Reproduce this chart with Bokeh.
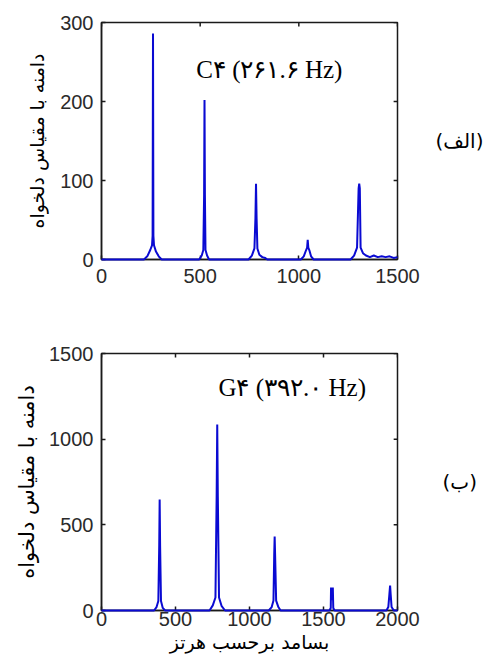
from bokeh.plotting import figure
from bokeh.models import LinearAxis, FixedTicker, Label, Range1d
from bokeh.layouts import column
from bokeh.embed import file_html
from bokeh.resources import INLINE

# ---- data: spectrum of C4 (261.6 Hz) ----
c4_freq = [0, 215, 232, 247, 256, 259, 261, 263, 266, 276, 290, 305,
           495, 508, 516, 520, 522, 524, 527, 535, 545,
           745, 762, 775, 780, 783, 786, 790, 800, 815, 830, 840,
           1010, 1025, 1037, 1042, 1045, 1048, 1053, 1062, 1075,
           1262, 1280, 1295, 1303, 1306, 1309, 1313, 1325, 1340, 1360, 1380,
           1400, 1420, 1440, 1460, 1480, 1500]
c4_amp = [0, 0, 4, 12, 18, 30, 286, 30, 18, 10, 4, 0,
          0, 5, 12, 82, 202, 82, 12, 5, 0,
          0, 5, 14, 52, 96, 52, 14, 6, 3, 2, 0,
          0, 4, 12, 15, 25, 15, 12, 4, 0,
          0, 5, 15, 90, 96, 90, 15, 8, 5, 3, 5,
          3, 4, 3, 4, 2, 3]

# ---- data: spectrum of G4 (392.0 Hz) ----
g4_freq = [0, 355, 372, 384, 390, 393, 396, 402, 414, 430,
           730, 752, 770, 778, 782, 786, 794, 812, 835,
           1130, 1150, 1162, 1167, 1170, 1173, 1180, 1195, 1210,
           1540, 1549, 1551, 1554, 1557, 1560, 1563, 1566, 1575,
           1925, 1938, 1945, 1950, 1954, 1960, 1975, 2000]
g4_amp = [0, 0, 20, 55, 380, 648, 380, 55, 15, 0,
          0, 30, 76, 665, 1086, 665, 76, 25, 0,
          0, 20, 58, 327, 432, 327, 58, 20, 0,
          0, 15, 134, 60, 134, 60, 134, 15, 0,
          0, 20, 93, 146, 93, 20, 0, 0]

c4_xticks = [0, 500, 1000, 1500]
c4_yticks = [0, 100, 200, 300]
g4_xticks = [0, 500, 1000, 1500, 2000]
g4_yticks = [0, 500, 1000, 1500]

y_label = "دامنه با مقیاس دلخواه"
x_label = "بسامد برحسب هرتز"
top_note = "C۴ (۲۶۱.۶ Hz)"
bottom_note = "G۴ (۳۹۲.۰ Hz)"
top_tag = "(الف)"
bottom_tag = "(ب)"

LINE = "#0a0ad2"
DARK = "#1a1a1a"
TICKFONT = "Liberation Sans"
ARFONT = "DejaVu Sans"
TICK_PX = 4


def make_panel(width, height, xmax, ymax, borders, xticks, yticks,
               ylab_size, ylab_standoff, tag, tag_standoff):
    bl, br, bt, bb = borders
    p = figure(width=width, height=height, x_range=Range1d(0, xmax), y_range=Range1d(0, ymax),
               output_backend="svg", toolbar_location=None,
               min_border_left=bl, min_border_right=br, min_border_top=bt, min_border_bottom=bb)
    p.xgrid.visible = False
    p.ygrid.visible = False
    p.outline_line_color = DARK
    p.outline_line_width = 1.5
    for ax in (p.below[0], p.left[0]):
        ax.axis_line_color = DARK
        ax.axis_line_width = 1.5
        ax.major_tick_in = TICK_PX
        ax.major_tick_out = 0
        ax.major_tick_line_color = DARK
        ax.major_tick_line_width = 1.5
        ax.minor_tick_line_color = None
        ax.major_label_text_font = TICKFONT
        ax.major_label_text_font_size = "20px"
        ax.major_label_text_color = "#2a2a2a"
    p.below[0].ticker = FixedTicker(ticks=xticks)
    p.left[0].ticker = FixedTicker(ticks=yticks)
    p.left[0].major_label_standoff = 8
    p.left[0].axis_label = y_label
    p.left[0].axis_label_text_font = ARFONT
    p.left[0].axis_label_text_font_style = "normal"
    p.left[0].axis_label_text_font_size = ylab_size
    p.left[0].axis_label_text_color = "black"
    p.left[0].axis_label_standoff = ylab_standoff

    # right axis only carries the panel tag
    rax = LinearAxis(ticker=FixedTicker(ticks=[]), axis_line_color=None,
                     major_tick_line_color=None, minor_tick_line_color=None,
                     axis_label=tag, axis_label_orientation="horizontal",
                     axis_label_text_font=ARFONT, axis_label_text_font_style="normal",
                     axis_label_text_font_size="20px", axis_label_text_color="black",
                     axis_label_standoff=tag_standoff)
    p.add_layout(rax, "right")

    # inward ticks on top and right edges (matching the bottom / left ticks)
    fh = height - bt - bb
    fw = width - bl - br
    dy = TICK_PX * ymax / fh
    dx = TICK_PX * xmax / fw
    p.segment(x0=xticks, y0=[ymax] * len(xticks), x1=xticks, y1=[ymax - dy] * len(xticks),
              line_color=DARK, line_width=1.5)
    p.segment(x0=[xmax] * len(yticks), y0=yticks, x1=[xmax - dx] * len(yticks), y1=yticks,
              line_color=DARK, line_width=1.5)
    return p


# ---- top panel ----
p1 = make_panel(488, 310, 1500, 300, (91, 91, 22, 51), c4_xticks, c4_yticks,
                "19px", 9, top_tag, 38)
p1.below[0].major_label_standoff = 9
r1 = p1.line(c4_freq, c4_amp, line_color=LINE, line_width=2)
r1.level = "overlay"
p1.add_layout(Label(x=480, y=240, text=top_note, text_font="Liberation Serif",
                    text_font_size="25px", text_color="black", text_baseline="alphabetic"))

# ---- bottom panel ----
p2 = make_panel(488, 354, 2000, 1500, (101, 77, 43, 54), g4_xticks, g4_yticks,
                "21px", 7, bottom_tag, 45)
p2.below[0].major_label_standoff = 1
p2.below[0].axis_label = x_label
p2.below[0].axis_label_text_font = ARFONT
p2.below[0].axis_label_text_font_style = "normal"
p2.below[0].axis_label_text_font_size = "19px"
p2.below[0].axis_label_text_color = "black"
p2.below[0].axis_label_standoff = 2
r2 = p2.line(g4_freq, g4_amp, line_color=LINE, line_width=2)
r2.level = "overlay"
p2.add_layout(Label(x=790, y=1300, text=bottom_note, text_font="Liberation Serif",
                    text_font_size="25px", text_color="black", text_baseline="alphabetic"))

layout = column(p1, p2, spacing=0)
open("out.html", "w").write(file_html(layout, INLINE))
